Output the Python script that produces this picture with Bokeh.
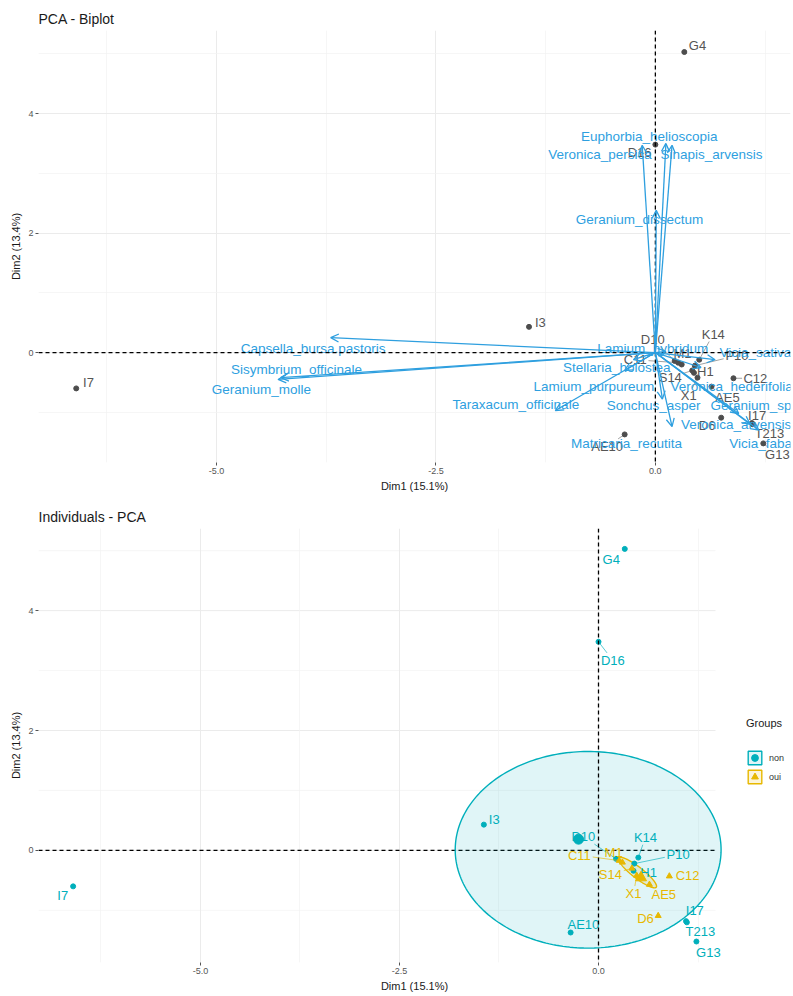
import numpy as np
from bokeh.plotting import figure
from bokeh.models import (ColumnDataSource, Arrow, OpenHead, FixedTicker, NumeralTickFormatter,
                          Span, Legend, LegendItem, Range1d)
from bokeh.layouts import column
from bokeh.embed import file_html
from bokeh.resources import INLINE
from bokeh.core.properties import value

FONT = "Liberation Sans"
TEAL = "#00AFBB"
GOLD = "#E7B800"
VARC = "#2E9FDF"
INDC = "#4d4d4d"

# ---------------- data ----------------
ind_names = ["G4", "D16", "I3", "I7", "D10", "K14", "C11", "M1", "P10", "S14",
             "H1", "X1", "AE5", "C12", "D6", "I17", "T213", "G13", "AE10"]
ind_dim1 = [0.33, 0.00, -1.44, -6.60, 0.22, 0.50, 0.26, 0.30, 0.45, 0.42,
            0.44, 0.48, 0.64, 0.89, 0.75, 1.10, 1.11, 1.23, -0.35]
ind_dim2 = [5.03, 3.48, 0.43, -0.60, -0.14, -0.12, -0.17, -0.20, -0.22, -0.30,
            -0.34, -0.42, -0.57, -0.43, -1.09, -1.18, -1.20, -1.52, -1.37]
ind_group = ["non", "non", "non", "non", "non", "non", "oui", "oui", "non", "oui",
             "non", "oui", "oui", "oui", "oui", "non", "non", "non", "non"]

# repelled label positions (biplot)
ind_lab1_top = [0.48, -0.18, -1.31, -6.46, -0.03, 0.66, -0.23, 0.31, 0.93, 0.17,
                0.57, 0.38, 0.82, 1.14, 0.59, 1.16, 1.30, 1.39, -0.55]
ind_lab2_top = [5.14, 3.34, 0.50, -0.50, 0.22, 0.31, -0.12, -0.02, -0.05, -0.42,
                -0.32, -0.72, -0.75, -0.43, -1.22, -1.05, -1.36, -1.71, -1.57]
# repelled label positions (individuals plot)
ind_lab1_bot = [0.16, 0.18, -1.31, -6.73, -0.19, 0.59, -0.24, 0.19, 1.00, 0.15,
                0.63, 0.44, 0.82, 1.12, 0.59, 1.21, 1.28, 1.38, -0.19]
ind_lab2_bot = [4.85, 3.17, 0.52, -0.75, 0.23, 0.22, -0.08, -0.03, -0.07, -0.40,
                -0.37, -0.72, -0.73, -0.42, -1.13, -1.01, -1.35, -1.70, -1.23]

var_names = ["Veronica_persica", "Euphorbia_helioscopia", "Sinapis_arvensis", "Geranium_dissectum",
             "Capsella_bursa.pastoris", "Sisymbrium_officinale", "Geranium_molle",
             "Taraxacum_officinale", "Lamium_purpureum", "Stellaria_holostea", "Lamium_hybridum",
             "Vicia_sativa", "Veronica_hederifolia", "Sonchus_asper", "Geranium_sp",
             "Veronica_arvensis", "Matricaria_recutita", "Vicia_faba"]
var_dim1 = [-0.15, 0.12, 0.19, 0.01, -3.70, -4.27, -4.30, -1.14, -0.35, -0.25, 0.12,
            0.68, 0.52, 0.08, 0.95, 1.08, 0.19, 1.18]
var_dim2 = [3.47, 3.50, 3.47, 2.38, 0.25, -0.42, -0.45, -0.97, -0.30, -0.12, 0.02,
            -0.12, -0.25, -0.78, -1.02, -1.20, -1.24, -1.30]
var_lab1 = [-0.63, -0.07, 0.64, -0.18, -3.90, -4.09, -4.49, -1.59, -0.70, -0.44, -0.03,
            1.14, 0.87, -0.02, 1.09, 0.92, -0.33, 1.20]
var_lab2 = [3.31, 3.61, 3.31, 2.23, 0.07, -0.28, -0.62, -0.87, -0.57, -0.25, 0.07,
            0.00, -0.57, -0.89, -0.89, -1.20, -1.52, -1.52]

# confidence ellipses: centre x, centre y, semi-axis a, semi-axis b, angle (deg)
ellipse_non = [-0.13, 0.01, 1.67, 1.64, 0.0]
ellipse_oui = [0.49, -0.37, 0.34, 0.08, -47.0]

x_ticks = [-5.0, -2.5, 0.0]
x_minor = [-6.25, -3.75, -1.25, 1.25]
y_ticks = [0, 2, 4]
y_minor = [-1, 1, 3, 5]

xlab = "Dim1 (15.1%)"
ylab = "Dim2 (13.4%)"

# ---------------- layout constants ----------------
W = 793
BL, BR = 38, 3
TOP_H, TOP_BT, TOP_BB = 495, 30, 33
TOP_XR, TOP_YR = (-7.03, 1.54), (-1.84, 5.39)
BOT_H, BOT_BT, BOT_BB = 500, 33, 33
BOT_XR, BOT_YR = (-7.035, 2.412), (-1.87, 5.37)
BOT_PANEL_RIGHT = 1.47   # right end of the individuals panel (legend sits beyond it)


def base_fig(title, h, xr, yr, bt, bb, hgrid=True):
    p = figure(width=W, height=h, x_range=Range1d(*xr), y_range=Range1d(*yr),
               output_backend="svg", toolbar_location=None,
               min_border_left=BL, min_border_right=BR, min_border_top=bt, min_border_bottom=bb)
    p.title.text = title
    p.title.text_font = FONT
    p.title.text_font_size = "14px"
    p.title.text_font_style = "normal"
    p.title.text_color = "#1a1a1a"
    p.title.standoff = 7
    p.outline_line_color = None
    p.xaxis.ticker = FixedTicker(ticks=x_ticks, minor_ticks=x_minor)
    p.yaxis.ticker = FixedTicker(ticks=y_ticks, minor_ticks=y_minor)
    p.xaxis.formatter = NumeralTickFormatter(format="0.0")
    p.yaxis.formatter = NumeralTickFormatter(format="0")
    for ax in (p.xaxis, p.yaxis):
        ax.axis_line_color = None
        ax.major_tick_line_color = "#555555"
        ax.major_tick_out = 3
        ax.major_tick_in = 0
        ax.minor_tick_out = 0
        ax.minor_tick_in = 0
        ax.major_label_text_font = FONT
        ax.major_label_text_font_size = "9px"
        ax.major_label_text_color = "#555555"
        ax.major_label_standoff = 2
        ax.axis_label_text_font = FONT
        ax.axis_label_text_font_size = "11px"
        ax.axis_label_text_font_style = "normal"
        ax.axis_label_text_color = "#1a1a1a"
        ax.axis_label_standoff = 3
    p.xaxis.axis_label = xlab
    p.yaxis.axis_label = ylab
    for g in (p.xgrid, p.ygrid):
        g.grid_line_color = "#ebebeb"
        g.grid_line_width = 1
        g.minor_grid_line_color = "#f2f2f2"
        g.minor_grid_line_width = 0.7
    p.add_layout(Span(location=0, dimension="height", line_color="black",
                      line_dash="4 3", line_width=1.3))
    if hgrid:
        p.add_layout(Span(location=0, dimension="width", line_color="black",
                          line_dash="4 3", line_width=1.3))
    else:
        # horizontal grid and zero line limited to the panel (legend area kept clear)
        p.ygrid.visible = False
        x_end = BOT_PANEL_RIGHT
        p.segment(x0=[xr[0]] * len(y_ticks), y0=y_ticks, x1=[x_end] * len(y_ticks), y1=y_ticks,
                  line_color="#ebebeb", line_width=1, level="underlay")
        p.segment(x0=[xr[0]] * len(y_minor), y0=y_minor, x1=[x_end] * len(y_minor), y1=y_minor,
                  line_color="#f2f2f2", line_width=0.7, level="underlay")
        p.segment(x0=[xr[0]], y0=[0], x1=[x_end], y1=[0], line_color="black",
                  line_dash="4 3", line_width=1.3)
    return p


def repel_segments(px, py, lx, ly, texts, sx, sy, fs=13.0):
    x0, y0, x1, y1 = [], [], [], []
    for a, b, c, d, t in zip(px, py, lx, ly, texts):
        dxp = (a - c) * sx
        dyp = (b - d) * sy
        hw = len(t) * fs * 0.29 + 2
        hh = fs * 0.5 + 1
        if abs(dxp) <= hw and abs(dyp) <= hh:
            continue
        tx = hw / abs(dxp) if dxp != 0 else np.inf
        ty = hh / abs(dyp) if dyp != 0 else np.inf
        tt = min(tx, ty)
        ex = c + (a - c) * tt
        ey = d + (b - d) * tt
        dist = np.hypot((a - ex) * sx, (b - ey) * sy)
        if dist > 6:
            x0.append(a); y0.append(b); x1.append(ex); y1.append(ey)
    return dict(x0=x0, y0=y0, x1=x1, y1=y1)


# ================= Biplot =================
p1 = base_fig("PCA - Biplot", TOP_H, TOP_XR, TOP_YR, TOP_BT, TOP_BB)
sx1 = (W - BL - BR) / (TOP_XR[1] - TOP_XR[0])
sy1 = (TOP_H - TOP_BT - TOP_BB) / (TOP_YR[1] - TOP_YR[0])

ind_src = ColumnDataSource(dict(x=ind_dim1, y=ind_dim2, lx=ind_lab1_top, ly=ind_lab2_top,
                                name=ind_names))
seg1 = repel_segments(ind_dim1, ind_dim2, ind_lab1_top, ind_lab2_top, ind_names, sx1, sy1)
p1.segment("x0", "y0", "x1", "y1", source=ColumnDataSource(seg1), line_color="#8a8a8a", line_width=0.8)
p1.scatter("x", "y", source=ind_src, size=5, color=INDC)
p1.text("lx", "ly", text="name", source=ind_src, text_font=value(FONT), text_font_size="13px",
        text_color="#555555", text_align="center", text_baseline="middle")

var_src = ColumnDataSource(dict(x0=[0.0] * len(var_names), y0=[0.0] * len(var_names),
                                x=var_dim1, y=var_dim2, lx=var_lab1, ly=var_lab2, name=var_names))
p1.add_layout(Arrow(end=OpenHead(size=8, line_color=VARC, line_width=1.3),
                    x_start="x0", y_start="y0", x_end="x", y_end="y", source=var_src,
                    line_color=VARC, line_width=1.3))
p1.text("lx", "ly", text="name", source=var_src, text_font=value(FONT), text_font_size="13.5px",
        text_color=VARC, text_align="center", text_baseline="middle")

# ================= Individuals =================
p2 = base_fig("Individuals - PCA", BOT_H, BOT_XR, BOT_YR, BOT_BT, BOT_BB, hgrid=False)
sx2 = (W - BL - BR) / (BOT_XR[1] - BOT_XR[0])
sy2 = (BOT_H - BOT_BT - BOT_BB) / (BOT_YR[1] - BOT_YR[0])


def ellipse_pts(e):
    cx, cy, a, b, ang = e
    t = np.linspace(0, 2 * np.pi, 240)
    th = np.deg2rad(ang)
    xs = cx + a * np.cos(t) * np.cos(th) - b * np.sin(t) * np.sin(th)
    ys = cy + a * np.cos(t) * np.sin(th) + b * np.sin(t) * np.cos(th)
    return xs, ys


ex, ey = ellipse_pts(ellipse_non)
ell_non = p2.patch(ex, ey, fill_color=TEAL, fill_alpha=0.12, line_color=TEAL, line_width=1.4)
ex, ey = ellipse_pts(ellipse_oui)
ell_oui = p2.patch(ex, ey, fill_color=GOLD, fill_alpha=0.15, line_color=GOLD, line_width=1.4)

renderers = {}
for grp, col, mk, sz, msz in (("non", TEAL, "circle", 5, 10), ("oui", GOLD, "triangle", 6, 11)):
    idx = [i for i, g in enumerate(ind_group) if g == grp]
    gx = [ind_dim1[i] for i in idx]
    gy = [ind_dim2[i] for i in idx]
    glx = [ind_lab1_bot[i] for i in idx]
    gly = [ind_lab2_bot[i] for i in idx]
    gn = [ind_names[i] for i in idx]
    seg = repel_segments(gx, gy, glx, gly, gn, sx2, sy2)
    p2.segment("x0", "y0", "x1", "y1", source=ColumnDataSource(seg), line_color=col,
               line_width=0.8, line_alpha=0.8)
    src = ColumnDataSource(dict(x=gx, y=gy, lx=glx, ly=gly, name=gn))
    r = p2.scatter("x", "y", source=src, size=sz, marker=mk, color=col)
    p2.scatter([float(np.mean(gx))], [float(np.mean(gy))], size=msz, marker=mk, color=col)
    p2.text("lx", "ly", text="name", source=src, text_font=value(FONT), text_font_size="13px",
            text_color=col, text_align="center", text_baseline="middle")
    renderers[grp] = r

legend = Legend(items=[LegendItem(label="non", renderers=[ell_non, renderers["non"]]),
                       LegendItem(label="oui", renderers=[ell_oui, renderers["oui"]])],
                title="Groups", location=(708, 177), orientation="vertical")
legend.title_text_font = FONT
legend.title_text_font_size = "11px"
legend.title_text_font_style = "normal"
legend.title_text_color = "#1a1a1a"
legend.title_standoff = 20
legend.label_text_font = FONT
legend.label_text_font_size = "9px"
legend.label_text_color = "#333333"
legend.glyph_width = 17
legend.glyph_height = 17
legend.label_height = 17
legend.label_standoff = 6
legend.spacing = 2
legend.padding = 0
legend.margin = 0
legend.border_line_color = None
legend.background_fill_alpha = 0
p2.add_layout(legend)

layout = column(p1, p2, spacing=0)
open("out.html", "w").write(file_html(layout, INLINE))
